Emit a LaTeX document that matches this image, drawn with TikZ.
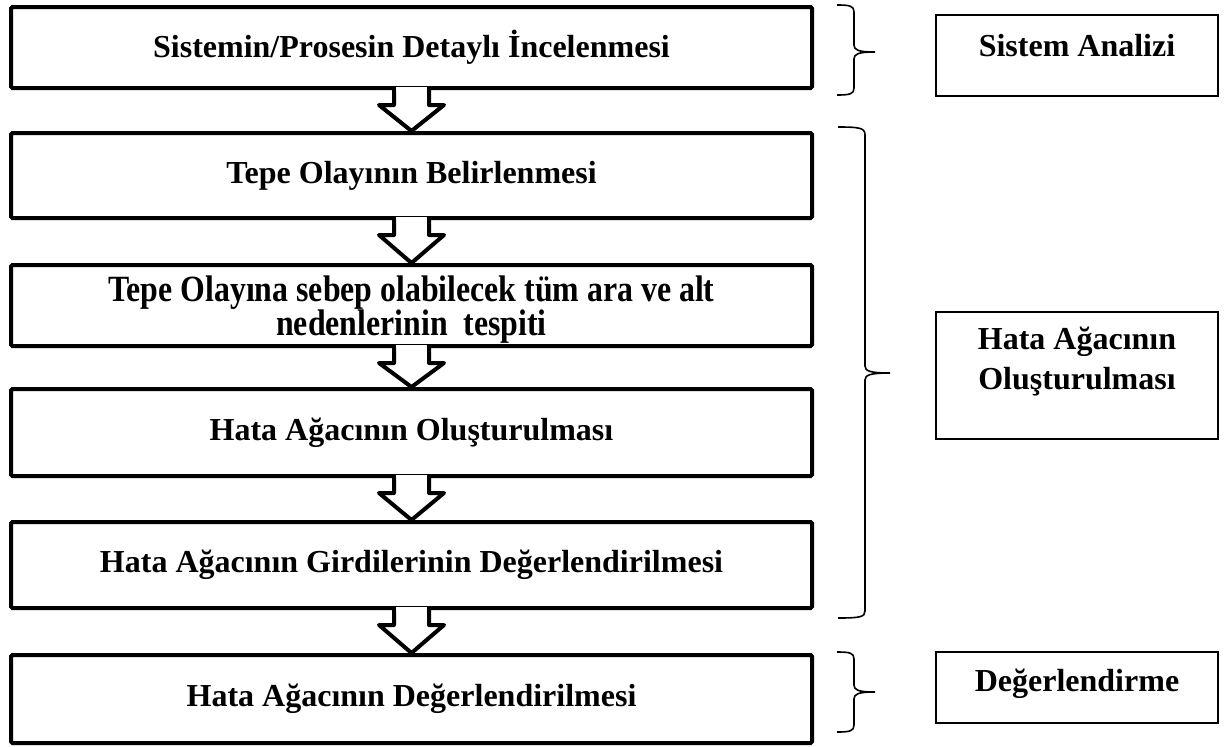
\documentclass[tikz,border=0pt]{standalone}
\usepackage{fontspec}
\setmainfont{Liberation Serif}
\newfontface\condbold[FakeStretch=0.86]{Liberation Serif Bold}
\usetikzlibrary{calc}
\begin{document}
\begin{tikzpicture}[x=1pt,y=-1pt,
  mainbox/.style={draw=black, line width=4pt, rounded corners=1.5pt, minimum width=801pt, inner sep=0pt,
     font=\fontsize{32}{30}\selectfont\bfseries, align=center},
  condtext/.style={font=\condbold\fontsize{37}{29}\selectfont, align=center, inner sep=0pt},
  sidebox/.style={draw=black, line width=1.1pt, minimum width=282pt, inner sep=0pt},
  lbl/.style={font=\fontsize{32}{40}\selectfont\bfseries, align=center, inner sep=0pt},
  blockarrow/.style={draw=black, line width=4pt, line join=round},
  bracepath/.style={draw=black, line width=1.6pt}
]
\useasboundingbox (0,0) rectangle (1227,747);

% main boxes
\node[mainbox, minimum height=81pt] (b1) at (411.5,47.5) {Sistemin/Prosesin Detaylı İncelenmesi};
\node[mainbox, minimum height=85pt] (b2) at (411.5,175.5) {Tepe Olayının Belirlenmesi};
\node[mainbox, minimum height=81pt,
      label={[condtext, yshift=-4pt]center:Tepe Olayına sebep olabilecek tüm ara ve alt\\nedenlerinin~ tespiti}] (b3) at (411.5,305.5) {};
\node[mainbox, minimum height=87pt] (b4) at (411.5,432.5) {Hata Ağacının Oluşturulması};
\node[mainbox, minimum height=86pt] (b5) at (411.5,565) {Hata Ağacının Girdilerinin Değerlendirilmesi};
\node[mainbox, minimum height=88pt] (b6) at (411.5,699) {Hata Ağacının Değerlendirilmesi};

% block arrows between boxes
\foreach \a/\b in {b1/b2, b2/b3, b3/b4, b4/b5, b5/b6}{
  \fill[white] ($(\a.south)+(-15.5,-3)$) rectangle ($(\a.south)+(15.5,3)$);
  \draw[blockarrow] ($(\a.south)+(-17.5,0)$) -- ++(0,15) -- ++(-15,0) -- (\b.north)
     -- ($(\a.south)+(32.5,15)$) -- ++(-15,0) -- ($(\a.south)+(17.5,0)$);
}

% side boxes
\node[sidebox, minimum height=81pt, label={[lbl, yshift=9.5pt]center:Sistem Analizi}] (r1) at (1077,55.5) {};
\node[sidebox, minimum height=127pt, label={[lbl, yshift=14pt]center:Hata Ağacının\\Oluşturulması}] (r2) at (1077,375.5) {};
\node[sidebox, minimum height=71pt, label={[lbl, yshift=4pt]center:Değerlendirme}] (r3) at (1077,687.5) {};

% braces
\coordinate (t1) at (875,52);
\draw[bracepath] (837,5) .. controls (850,5) and (854,6) .. (854,12) -- (854,45)
   .. controls (854,50) and (858,52) .. (t1) .. controls (858,52) and (854,54) .. (854,59)
   -- (854,88) .. controls (854,94) and (850,95) .. (837,95);
\coordinate (t2) at (890,373);
\draw[bracepath] (838,127) .. controls (860,127) and (865,128) .. (865,135) -- (865,366)
   .. controls (865,371) and (870,373) .. (t2) .. controls (870,373) and (865,375) .. (865,380)
   -- (865,611) .. controls (865,617) and (860,618) .. (838,618);
\coordinate (t3) at (875,692);
\draw[bracepath] (837,652) .. controls (850,652) and (854,653) .. (854,659) -- (854,685)
   .. controls (854,690) and (858,692) .. (t3) .. controls (858,692) and (854,694) .. (854,699)
   -- (854,725) .. controls (854,731) and (850,732) .. (837,732);
\end{tikzpicture}
\end{document}
